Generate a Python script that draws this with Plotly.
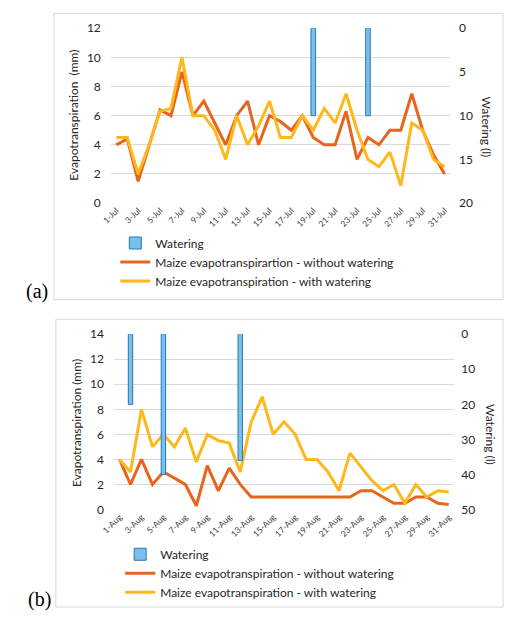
import plotly.graph_objects as go

# ---------------- data ----------------
jul_days = [f"{d}-Jul" for d in range(1, 32)]
jul_without = [4.0, 4.4, 1.5, 4.0, 6.4, 6.0, 9.0, 6.0, 7.0, 5.5, 4.0, 6.0, 7.0, 4.0, 6.0, 5.6,
               5.0, 6.0, 4.5, 4.0, 4.0, 6.3, 3.0, 4.5, 4.0, 5.0, 5.0, 7.5, 5.0, 3.3, 2.0]
jul_with = [4.5, 4.5, 2.0, 4.0, 6.3, 6.5, 10.0, 6.0, 6.0, 5.0, 3.0, 6.0, 4.0, 5.3, 7.0, 4.5,
            4.5, 6.0, 5.0, 6.5, 5.5, 7.5, 5.0, 3.0, 2.5, 3.5, 1.2, 5.5, 5.0, 3.0, 2.5]
jul_watering = [None] * 18 + [10] + [None] * 4 + [10] + [None] * 7

aug_days = [f"{d}-Aug" for d in range(1, 32)]
aug_without = [4.0, 2.0, 4.0, 2.0, 3.0, 2.5, 2.0, 0.3, 3.5, 1.5, 3.3, 2.0, 1.0, 1.0, 1.0, 1.0,
               1.0, 1.0, 1.0, 1.0, 1.0, 1.0, 1.5, 1.5, 1.0, 0.5, 0.5, 1.0, 1.0, 0.5, 0.4]
aug_with = [4.0, 3.0, 8.0, 5.0, 6.0, 5.0, 6.5, 3.8, 6.0, 5.5, 5.3, 3.0, 7.0, 9.0, 6.0, 7.0,
            6.0, 4.0, 4.0, 3.0, 1.5, 4.5, 3.4, 2.3, 1.5, 2.0, 0.5, 2.0, 1.0, 1.5, 1.4]
aug_watering = [None, 20, None, None, 40] + [None] * 6 + [36] + [None] * 19

name_bar = "Watering"
name_wo_a = "Maize evapotranspirartion - without watering"
name_wo_b = "Maize evapotranspiration - without watering"
name_w = "Maize evapotranspiration - with watering"

# ---------------- styles ----------------
ORANGE = "#E8651F"
YELLOW = "#FFB81C"
BLUE_FILL = "#7CC0E8"
BLUE_LINE = "#1F78C1"
GRID = "#D9D9D9"
FONT = "Lato"
W, H = 505, 617


def px_x(p):
    return p / W


def px_y(p):
    return 1 - p / H


fig = go.Figure()

# top chart (a)
fig.add_trace(go.Scatter(x=jul_days, y=jul_without, mode="lines", name=name_wo_a,
                         line=dict(color=ORANGE, width=3), xaxis="x", yaxis="y", legend="legend"))
fig.add_trace(go.Scatter(x=jul_days, y=jul_with, mode="lines", name=name_w,
                         line=dict(color=YELLOW, width=3), xaxis="x", yaxis="y", legend="legend"))
fig.add_trace(go.Bar(x=jul_days, y=jul_watering, base=0, name=name_bar, width=0.42,
                     marker=dict(color=BLUE_FILL, line=dict(color=BLUE_LINE, width=1)),
                     xaxis="x", yaxis="y2", legend="legend", legendrank=1))

# bottom chart (b)
fig.add_trace(go.Scatter(x=aug_days, y=aug_without, mode="lines", name=name_wo_b,
                         line=dict(color=ORANGE, width=3), xaxis="x2", yaxis="y3", legend="legend2"))
fig.add_trace(go.Scatter(x=aug_days, y=aug_with, mode="lines", name=name_w,
                         line=dict(color=YELLOW, width=3), xaxis="x2", yaxis="y3", legend="legend2"))
fig.add_trace(go.Bar(x=aug_days, y=aug_watering, base=0, name=name_bar, width=0.4,
                     marker=dict(color=BLUE_FILL, line=dict(color=BLUE_LINE, width=1)),
                     xaxis="x2", yaxis="y4", legend="legend2", legendrank=1))

tickfont = dict(family=FONT, size=12, color="#262626")
xtickfont = dict(family=FONT, size=8.5, color="#404040")

xcommon = dict(type="category", tickangle=-45, tickfont=xtickfont, showgrid=False,
               showline=False, zeroline=False, ticks="", fixedrange=True)
ycommon = dict(tickfont=tickfont, zeroline=False, showline=False, ticks="")

fig.update_layout(
    width=W, height=H,
    margin=dict(l=0, r=0, t=0, b=0),
    paper_bgcolor="white", plot_bgcolor="rgba(0,0,0,0)",
    font=dict(family=FONT, color="#262626"),
    barmode="overlay",
    xaxis=dict(**xcommon, domain=[px_x(100.4), px_x(448.6)], anchor="y",
               tickmode="array", tickvals=jul_days[::2], range=[-0.5, 30.5]),
    yaxis=dict(**ycommon, domain=[px_y(200), px_y(20.7)], range=[0, 12], dtick=2,
               showgrid=True, gridcolor=GRID, gridwidth=1, anchor="x", side="left",
               ticklabelstandoff=9),
    yaxis2=dict(**ycommon, range=[20, 0], dtick=5, overlaying="y", side="right",
                showgrid=False, anchor="x", ticklabelstandoff=8),
    xaxis2=dict(**xcommon, domain=[px_x(103.7), px_x(452.9)], anchor="y3",
                tickmode="array", tickvals=aug_days[::2], range=[-0.5, 30.5]),
    yaxis3=dict(**ycommon, domain=[px_y(514), px_y(334.3)], range=[0, 14], dtick=2,
                showgrid=True, gridcolor=GRID, gridwidth=1, anchor="x2", side="left",
                ticklabelstandoff=9),
    yaxis4=dict(**ycommon, range=[50, 0], dtick=10, overlaying="y3", side="right",
                showgrid=False, anchor="x2", ticklabelstandoff=6),
    legend=dict(x=px_x(105), y=px_y(226), xanchor="left", yanchor="top",
                font=dict(family=FONT, size=12, color="#262626"), bgcolor="rgba(0,0,0,0)",
                tracegroupgap=0, traceorder="normal", itemwidth=30),
    legend2=dict(x=px_x(110), y=px_y(545), xanchor="left", yanchor="top",
                 font=dict(family=FONT, size=12, color="#262626"), bgcolor="rgba(0,0,0,0)",
                 tracegroupgap=0, traceorder="normal", itemwidth=30),
    showlegend=True,
)

# chart borders
fig.add_shape(type="rect", xref="paper", yref="paper", x0=px_x(42), x1=px_x(503),
              y0=px_y(299), y1=px_y(5.5), line=dict(color=GRID, width=1))
fig.add_shape(type="rect", xref="paper", yref="paper", x0=px_x(44), x1=px_x(503),
              y0=px_y(614), y1=px_y(319), line=dict(color=GRID, width=1))

# axis titles
ann = [
    dict(text="Evapotranspiration  (mm)", x=px_x(62), y=px_y(110), textangle=-90),
    dict(text="Watering (l)", x=px_x(487), y=px_y(122), textangle=90),
    dict(text="Evapotranspiration (mm)", x=px_x(65), y=px_y(425), textangle=-90),
    dict(text="Watering (l)", x=px_x(490), y=px_y(437), textangle=90),
]
for a in ann:
    fig.add_annotation(xref="paper", yref="paper", showarrow=False, xanchor="center",
                       yanchor="middle", font=dict(family=FONT, size=12, color="#262626"), **a)

# panel labels
fig.add_annotation(text="(a)", xref="paper", yref="paper", x=px_x(11), y=px_y(291),
                   xanchor="left", yanchor="middle", showarrow=False,
                   font=dict(family="Liberation Serif", size=20, color="black"))
fig.add_annotation(text="(b)", xref="paper", yref="paper", x=px_x(13), y=px_y(606),
                   xanchor="left", yanchor="middle", showarrow=False,
                   font=dict(family="Liberation Serif", size=20, color="black"))

fig.write_html("out.html", config={"displayModeBar": False},
               post_script="document.body.style.margin='0px';document.body.style.padding='0px';")
